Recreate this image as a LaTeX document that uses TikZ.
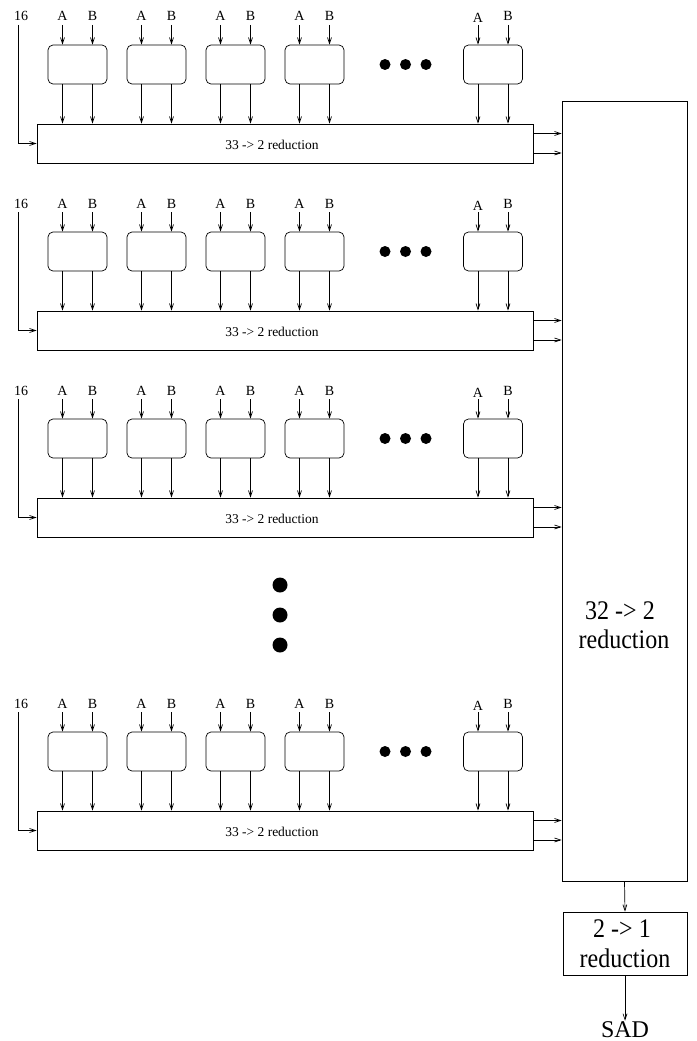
\documentclass[tikz,border=0pt]{standalone}
\usepackage{fontspec}
\setmainfont{Liberation Serif}
\usetikzlibrary{arrows.meta}
\begin{document}
\begin{tikzpicture}[x=1pt,y=-1pt,line width=0.7pt,
  >={Straight Barb[length=6pt,width=4pt]},
  pebox/.style={draw,rounded corners=5pt,minimum width=59pt,minimum height=39pt,inner sep=0pt},
  redbox/.style={draw,minimum width=496pt,minimum height=39pt,inner sep=0pt},
  smalltxt/.style={font=\fontsize{13.5}{16}\selectfont,inner sep=0pt,anchor=base},
  lbl/.style={font=\fontsize{14}{16}\selectfont,inner sep=0pt,anchor=base},
  bigtxt/.style={font=\fontsize{24}{28}\selectfont,inner sep=0pt,anchor=base},
  dot/.style={circle,fill,inner sep=0pt,minimum size=11pt},
  bigdot/.style={circle,fill,inner sep=0pt,minimum size=15pt}]
\useasboundingbox (0,0) rectangle (696,1041);

% the large final adder and the last stage
\node[draw,minimum width=125pt,minimum height=780pt,inner sep=0pt] (big) at (624.5,491) {};
\node[bigtxt] (bigA) at (620,619) {\scalebox{1}[1.12]{32 -> 2}};
\node[bigtxt] (bigB) at (624,648) {\scalebox{1}[1.12]{reduction}};

\node[draw,minimum width=124pt,minimum height=63pt,inner sep=0pt] (last) at (625,943.5) {};
\node[bigtxt] (lastA) at (622,937) {\scalebox{1}[1.12]{2 -> 1}};
\node[bigtxt] (lastB) at (625,967) {\scalebox{1}[1.12]{reduction}};
\node[bigtxt] (sad) at (625,1037) {SAD};

\draw[->] (big.south) -- (last.north);
\draw[->] (last.south) -- (sad.north);

% vertical ellipsis between the rows
\node[bigdot] (vd1) at (280,585) {};
\node[bigdot] (vd2) at (280,615) {};
\node[bigdot] (vd3) at (280,645) {};

% one row of absolute-difference units feeding a 33->2 reducer
\foreach \r/\dy in {1/0,2/187,3/374,4/687}{
  \node[redbox] (red\r) at (285,143.5+\dy) {};
  \node[smalltxt] (rt\r) at (272,149+\dy) {33 -> 2 reduction};
  \node[lbl] (n\r) at (21,21+\dy) {16};
  \coordinate (k\r) at (18,25+\dy);
  \draw[->] (k\r) |- (red\r.west);
  \foreach \u/\x/\ay in {1/77.5/21,2/156.5/21,3/235.5/21,4/314.5/21,5/493/23}{
    \node[pebox] (p\r\u) at (\x,64.5+\dy) {};
    \node[lbl] (a\r\u) at (\x-15,\ay+\dy) {A};
    \node[lbl] (b\r\u) at (\x+15,21+\dy) {B};
    \coordinate (ta\r\u) at (\x-15,25+\dy);
    \coordinate (tb\r\u) at (\x+15,25+\dy);
    \draw[->] (ta\r\u) -- (ta\r\u |- p\r\u.north);
    \draw[->] (tb\r\u) -- (tb\r\u |- p\r\u.north);
    \draw[->] (ta\r\u |- p\r\u.south) -- (ta\r\u |- red\r.north);
    \draw[->] (tb\r\u |- p\r\u.south) -- (tb\r\u |- red\r.north);
  }
  \node[dot] (d\r a) at (385,64.5+\dy) {};
  \node[dot] (d\r b) at (405.5,64.5+\dy) {};
  \node[dot] (d\r c) at (426,64.5+\dy) {};
  \coordinate (o\r a) at (533,133.5+\dy);
  \coordinate (o\r b) at (533,153+\dy);
  \draw[->] (o\r a) -- (o\r a -| big.west);
  \draw[->] (o\r b) -- (o\r b -| big.west);
}
\end{tikzpicture}
\end{document}
